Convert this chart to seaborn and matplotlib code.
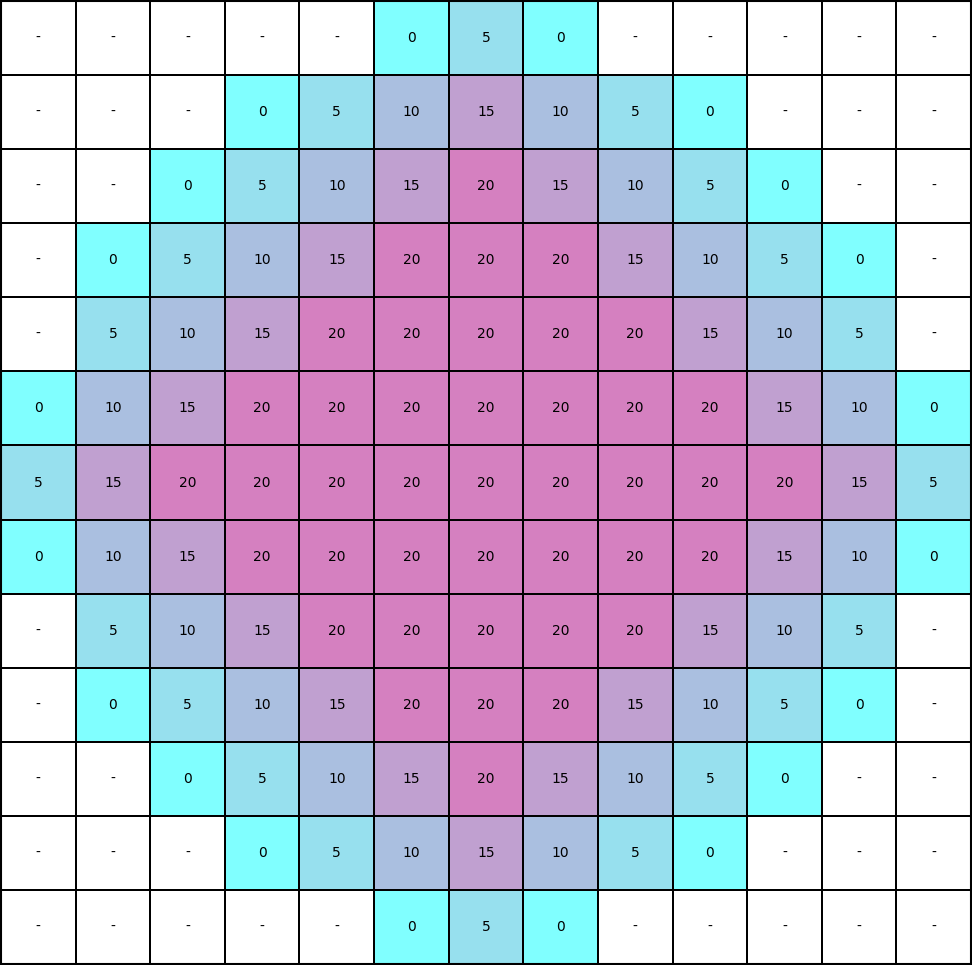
import numpy as np
import pandas as pd
import matplotlib
matplotlib.use("Agg")
import matplotlib.pyplot as plt
import seaborn as sns
from matplotlib.colors import ListedColormap

# valeurs de la grille (None = case vide "-")
rows = [
    [None, None, None, None, None, 0, 5, 0, None, None, None, None, None],
    [None, None, None, 0, 5, 10, 15, 10, 5, 0, None, None, None],
    [None, None, 0, 5, 10, 15, 20, 15, 10, 5, 0, None, None],
    [None, 0, 5, 10, 15, 20, 20, 20, 15, 10, 5, 0, None],
    [None, 5, 10, 15, 20, 20, 20, 20, 20, 15, 10, 5, None],
    [0, 10, 15, 20, 20, 20, 20, 20, 20, 20, 15, 10, 0],
    [5, 15, 20, 20, 20, 20, 20, 20, 20, 20, 20, 15, 5],
    [0, 10, 15, 20, 20, 20, 20, 20, 20, 20, 15, 10, 0],
    [None, 5, 10, 15, 20, 20, 20, 20, 20, 15, 10, 5, None],
    [None, 0, 5, 10, 15, 20, 20, 20, 15, 10, 5, 0, None],
    [None, None, 0, 5, 10, 15, 20, 15, 10, 5, 0, None, None],
    [None, None, None, 0, 5, 10, 15, 10, 5, 0, None, None, None],
    [None, None, None, None, None, 0, 5, 0, None, None, None, None, None],
]
levels = [0, 5, 10, 15, 20]
level_colors = ["#80FFFF", "#97E0EE", "#AABFE0", "#C0A0D0", "#D580C0"]

# -5 = case vide (blanche)
grid = pd.DataFrame([[(-5 if v is None else v) for v in r] for r in rows])
labels = np.array([["-" if v is None else str(v) for v in r] for r in rows])

cmap = ListedColormap(["#FFFFFF"] + level_colors)

fig = plt.figure(figsize=(9.72, 9.65), dpi=100)
ax = fig.add_axes([0.001, 0.001, 0.998, 0.998])
sns.heatmap(grid, cmap=cmap, vmin=-7.5, vmax=22.5, annot=labels, fmt="",
            annot_kws={"fontsize": 10, "color": "black"},
            linewidths=1.2, linecolor="black", cbar=False, square=False, ax=ax)
ax.set_xticks([])
ax.set_yticks([])
ax.set_xlabel("")
ax.set_ylabel("")
for s in ax.spines.values():
    s.set_visible(True)
    s.set_color("black")
    s.set_linewidth(1.5)

fig.savefig("out.png", dpi=100)
